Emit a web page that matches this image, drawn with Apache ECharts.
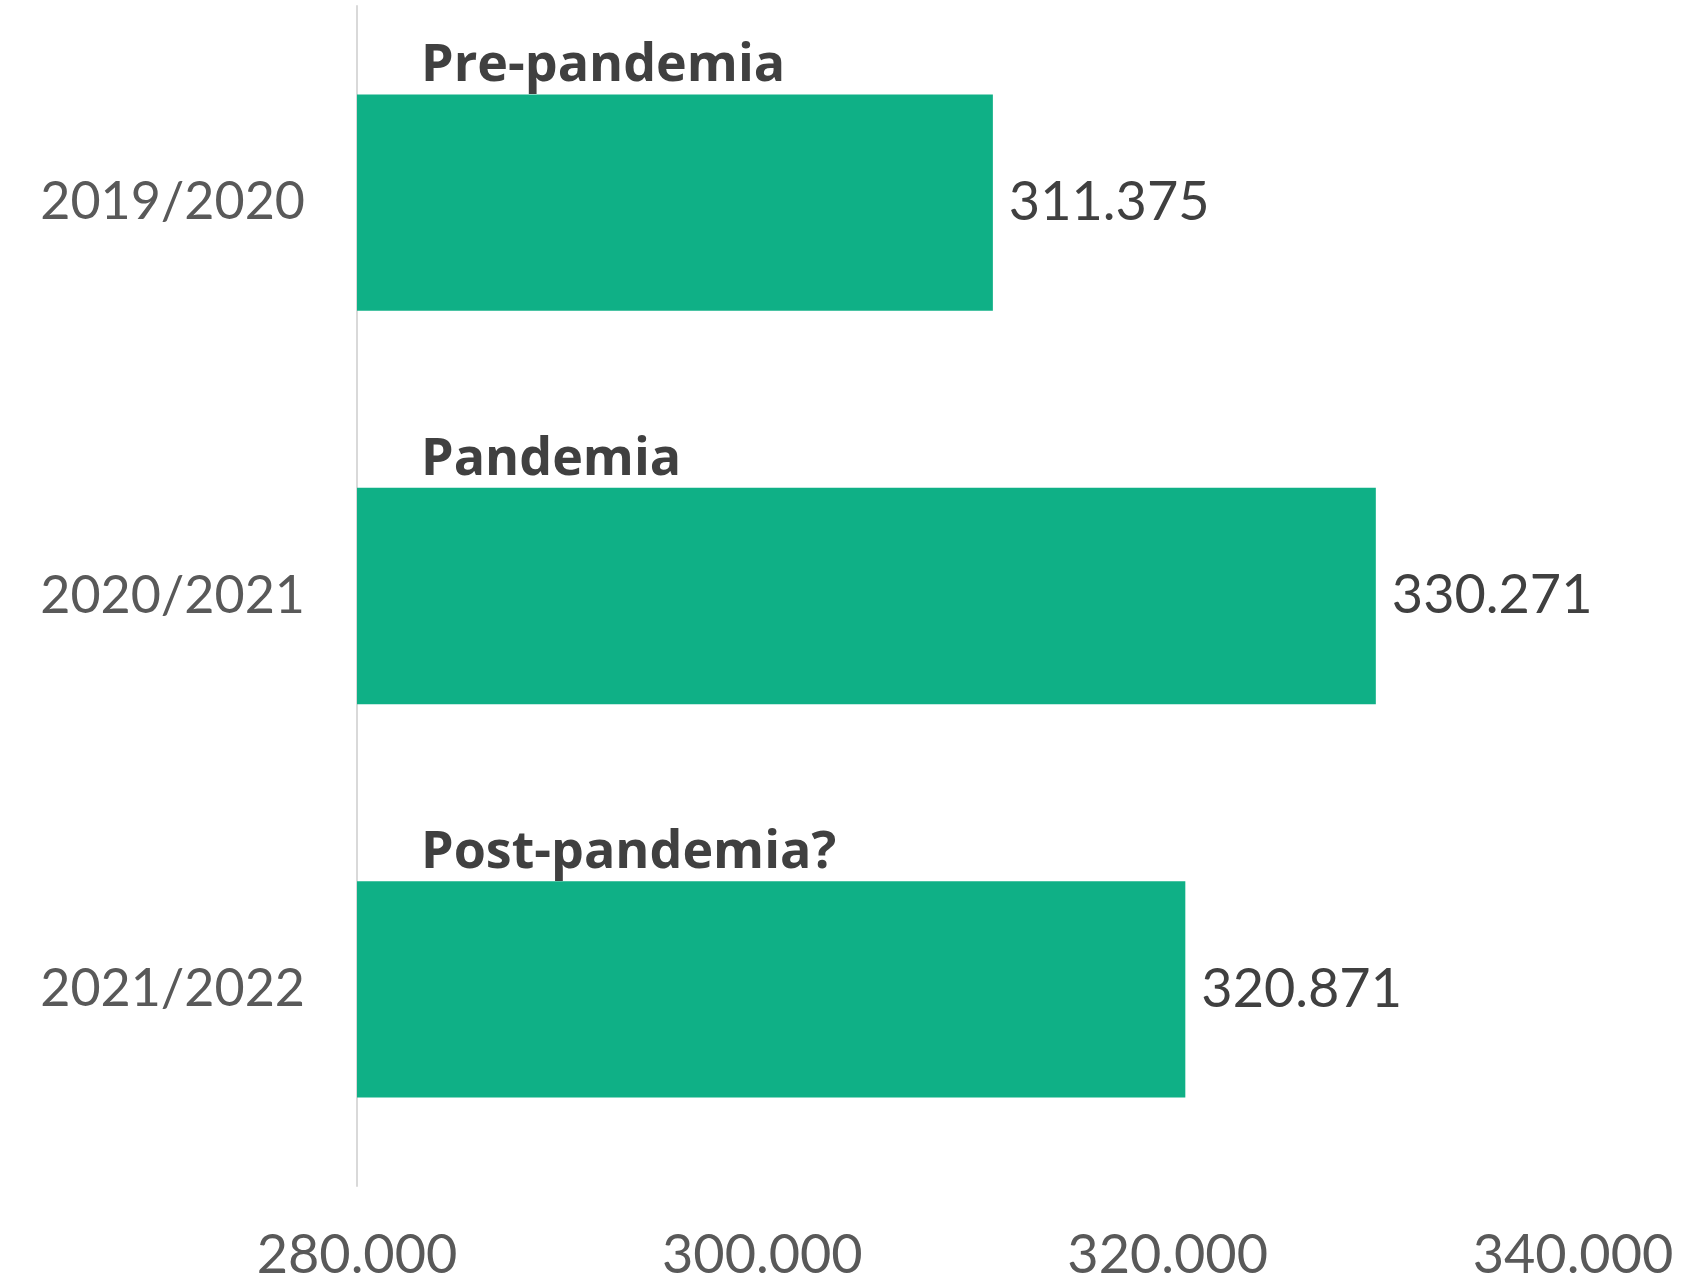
<!DOCTYPE html>
<html>
<head>
<meta charset="utf-8">
<script src="https://cdn.jsdelivr.net/npm/echarts@6/dist/echarts.min.js"></script>
<style>
  html, body { margin: 0; padding: 0; background: #ffffff; }
  #chart { width: 1707px; height: 1283px; }
</style>
</head>
<body>
<div id="chart"></div>
<script>
// School years, their enrolment totals and the phase heading shown above each bar
const categories = ['2019/2020', '2020/2021', '2021/2022'];
const values = [311375, 330271, 320871];
const phases = ['Pre-pandemia', 'Pandemia', 'Post-pandemia?'];
const axisMin = 280000;
const axisMax = 340000;
const axisStep = 20000;

// Dot as thousands separator: 311375 -> "311.375"
function fmt(v) {
  return String(Math.round(v)).replace(/\B(?=(\d{3})+(?!\d))/g, '.');
}

const FONT = 'Lato, "Open Sans", sans-serif';
const HEAD_FONT = '"Open Sans", Lato, sans-serif';
const chart = echarts.init(document.getElementById('chart'), null, { renderer: 'canvas' });

chart.setOption({
  backgroundColor: '#ffffff',
  animation: false,
  grid: { left: 357, right: 134, top: 6, bottom: 96, containLabel: false },
  xAxis: {
    type: 'value',
    min: axisMin,
    max: axisMax,
    interval: axisStep,
    axisLine: { show: false },
    axisTick: { show: false },
    splitLine: { show: false },
    axisLabel: {
      margin: 43,
      fontFamily: FONT,
      fontSize: 54,
      color: '#595959',
      formatter: fmt
    }
  },
  yAxis: {
    type: 'category',
    data: categories,
    inverse: true,
    axisLine: { show: true, lineStyle: { color: '#d9d9d9', width: 2 } },
    axisTick: { show: false },
    splitLine: { show: false },
    axisLabel: {
      margin: 52,
      fontFamily: FONT,
      fontSize: 52,
      color: '#595959'
    }
  },
  series: [
    {
      type: 'bar',
      data: values,
      barWidth: '55%',
      itemStyle: { color: '#0fb086' },
      label: {
        show: true,
        position: 'right',
        distance: 16,
        fontFamily: FONT,
        fontSize: 54,
        color: '#404040',
        formatter: function (p) { return fmt(p.value); }
      }
    },
    {
      // transparent twin bars that carry the phase headings above each bar
      type: 'bar',
      data: values,
      barWidth: '55%',
      barGap: '-100%',
      itemStyle: { color: 'rgba(0,0,0,0)' },
      silent: true,
      label: {
        show: true,
        position: [64, -2],
        align: 'left',
        verticalAlign: 'bottom',
        fontFamily: HEAD_FONT,
        fontWeight: 'bold',
        fontSize: 52,
        color: '#404040',
        formatter: function (p) { return phases[p.dataIndex]; }
      }
    }
  ]
});
</script>
</body>
</html>
